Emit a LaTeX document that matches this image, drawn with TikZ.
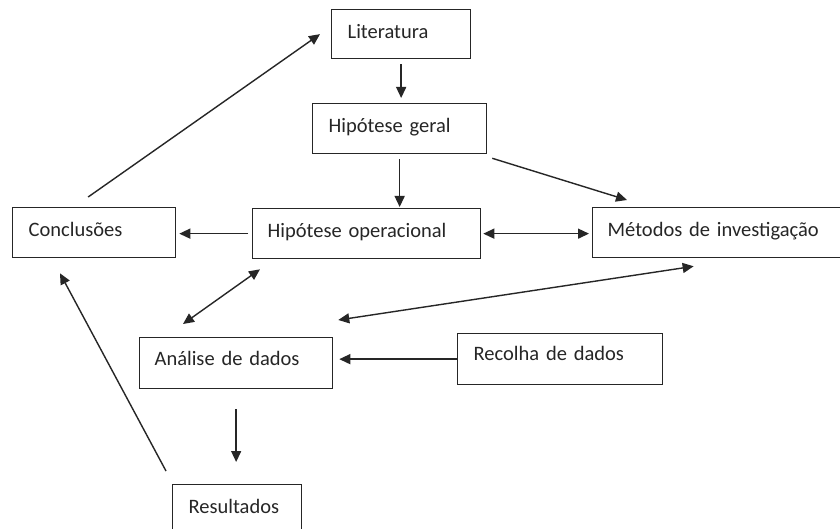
\documentclass[tikz,border=0pt]{standalone}
\usepackage{fontspec}
\setmainfont{Carlito}
\usetikzlibrary{arrows.meta,calc}
\begin{document}
\begin{tikzpicture}[x=1pt,y=-1pt,
  box/.style={draw=black!85, line width=1.3pt, rectangle, anchor=north west, inner xsep=0pt, inner ysep=0pt,
    align=left, text=black!85, font=\fontsize{20.5}{24}\selectfont, text height=13.7pt, text depth=5.3pt},
  arr/.style={draw=black!85, line width=1.4pt, -{Triangle[length=11pt,width=10pt]}},
  darr/.style={draw=black!85, line width=1.4pt, {Triangle[length=11pt,width=10pt]}-{Triangle[length=11pt,width=10pt]}}]
\useasboundingbox (0,0) rectangle (840,529);
\clip (0,0) rectangle (840,529);
\fill[white] (0,0) rectangle (840,529);
% boxes
\node[box, minimum width=139pt, minimum height=49pt, text width=139pt] (lit) at (331,9) {\hspace*{16pt}Literatura};
\node[box, minimum width=174pt, minimum height=50pt, text width=174pt] (hg) at (312,103) {\hspace*{16pt}Hipótese geral};
\node[box, minimum width=163pt, minimum height=50pt, text width=163pt] (conc) at (12,207) {\hspace*{16pt}Conclusões};
\node[box, minimum width=228pt, minimum height=50pt, text width=228pt] (hop) at (252,208) {\hspace*{15pt}Hipótese operacional};
\node[box, minimum width=258pt, minimum height=50pt, text width=258pt] (met) at (592,207) {\hspace*{15pt}Métodos de investigação};
\node[box, minimum width=193pt, minimum height=51pt, text width=193pt, text height=13.7pt, text depth=9pt] (ana) at (139,337) {\hspace*{15pt}Análise de dados};
\node[box, minimum width=205pt, minimum height=51pt, text width=205pt, text height=13.7pt, text depth=11pt] (rec) at (457,333) {\hspace*{16pt}Recolha de dados};
\node[box, minimum width=129pt, minimum height=64pt, text width=129pt, text height=13.7pt, text depth=21pt] (res) at (172,484) {\hspace*{16pt}Resultados};
% connectors
\draw[arr, shorten <=5pt, shorten >=5pt] (lit.south) -- (lit.south |- hg.north);
\draw[arr, shorten <=5pt, shorten >=1pt] (hg.south) -- (hg.south |- hop.north);
\draw[arr] ($(hg.south east)+(5,4)$) -- ($(met.north west)+(35,-7)$);
\draw[arr, shorten <=4pt, shorten >=3pt] (hop.west) -- (hop.west -| conc.east);
\draw[darr, shorten <=2pt, shorten >=3pt] (hop.east) -- (hop.east -| met.west);
\draw[arr] ($(conc.north)+(-6,-10)$) -- ($(lit.west)+(-11,0)$);
\draw[darr] ($(hop.south west)+(8,10)$) -- ($(ana.north west)+(44,-13)$);
\draw[darr] ($(met.south)+(-28,8)$) -- ($(ana.north east)+(5,-17)$);
\draw[arr, shorten >=6pt] (rec.west) -- (rec.west -| ana.east);
\draw[arr, shorten <=20pt, shorten >=22pt] (ana.south) -- (ana.south |- res.north);
\draw[arr] ($(res.north west)+(-6,-13)$) -- ($(conc.south west)+(48,15)$);
\end{tikzpicture}
\end{document}
